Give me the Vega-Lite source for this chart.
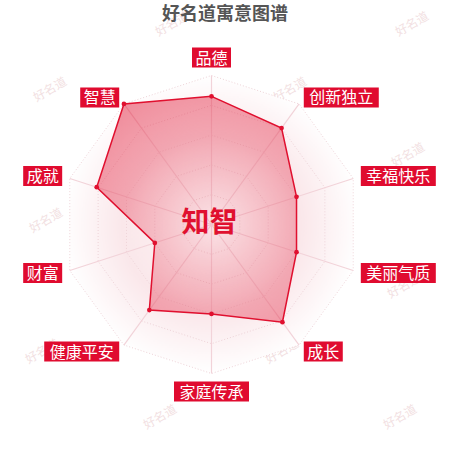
{
  "$schema": "https://vega.github.io/schema/vega-lite/v6.json",
  "description": "Radar chart of name meaning scores for 知智.",
  "width": 450,
  "height": 450,
  "padding": 0,
  "autosize": {"type": "none"},
  "title": {
    "text": "好名道寓意图谱",
    "font": "Noto Sans CJK SC",
    "fontSize": 18,
    "fontWeight": "bold",
    "color": "#555555",
    "anchor": "middle",
    "frame": "group",
    "offset": -24
  },
  "config": {"view": {"stroke": null}},
  "datasets": {
    "scores": [
      {"k": "品德", "i": 0, "v": 86},
      {"k": "创新独立", "i": 1, "v": 80},
      {"k": "幸福快乐", "i": 2, "v": 60},
      {"k": "美丽气质", "i": 3, "v": 60},
      {"k": "成长", "i": 4, "v": 81},
      {"k": "家庭传承", "i": 5, "v": 60},
      {"k": "健康平安", "i": 6, "v": 71},
      {"k": "财富", "i": 7, "v": 40},
      {"k": "成就", "i": 8, "v": 81},
      {"k": "智慧", "i": 9, "v": 100}
    ],
    "grid": [
      {"i": 0, "lv": 20}, {"i": 1, "lv": 20}, {"i": 2, "lv": 20}, {"i": 3, "lv": 20}, {"i": 4, "lv": 20},
      {"i": 5, "lv": 20}, {"i": 6, "lv": 20}, {"i": 7, "lv": 20}, {"i": 8, "lv": 20}, {"i": 9, "lv": 20},
      {"i": 0, "lv": 40}, {"i": 1, "lv": 40}, {"i": 2, "lv": 40}, {"i": 3, "lv": 40}, {"i": 4, "lv": 40},
      {"i": 5, "lv": 40}, {"i": 6, "lv": 40}, {"i": 7, "lv": 40}, {"i": 8, "lv": 40}, {"i": 9, "lv": 40},
      {"i": 0, "lv": 60}, {"i": 1, "lv": 60}, {"i": 2, "lv": 60}, {"i": 3, "lv": 60}, {"i": 4, "lv": 60},
      {"i": 5, "lv": 60}, {"i": 6, "lv": 60}, {"i": 7, "lv": 60}, {"i": 8, "lv": 60}, {"i": 9, "lv": 60},
      {"i": 0, "lv": 80}, {"i": 1, "lv": 80}, {"i": 2, "lv": 80}, {"i": 3, "lv": 80}, {"i": 4, "lv": 80},
      {"i": 5, "lv": 80}, {"i": 6, "lv": 80}, {"i": 7, "lv": 80}, {"i": 8, "lv": 80}, {"i": 9, "lv": 80},
      {"i": 0, "lv": 100}, {"i": 1, "lv": 100}, {"i": 2, "lv": 100}, {"i": 3, "lv": 100}, {"i": 4, "lv": 100},
      {"i": 5, "lv": 100}, {"i": 6, "lv": 100}, {"i": 7, "lv": 100}, {"i": 8, "lv": 100}, {"i": 9, "lv": 100}
    ],
    "stamps": [
      {"r": 0, "c": 0}, {"r": 0, "c": 1},
      {"r": 1, "c": 0}, {"r": 1, "c": 1},
      {"r": 2, "c": 0}, {"r": 2, "c": 1},
      {"r": 3, "c": 0}, {"r": 3, "c": 1},
      {"r": 4, "c": 0}, {"r": 4, "c": 1},
      {"r": 5, "c": 0}, {"r": 5, "c": 1},
      {"r": 6, "c": 0}, {"r": 6, "c": 1}
    ]
  },
  "encoding": {
    "x": {"field": "x", "type": "quantitative", "axis": null,
          "scale": {"domain": [-211.5, 238.5], "nice": false, "zero": false}},
    "y": {"field": "y", "type": "quantitative", "axis": null,
          "scale": {"domain": [-225.5, 224.5], "nice": false, "zero": false}}
  },
  "layer": [
    {
      "data": {"name": "stamps"},
      "transform": [
        {"calculate": "172 - 2 * datum.r + 240 * datum.c - (datum.r % 2) * 120 - 211.5", "as": "x"},
        {"calculate": "224.5 - (24 + 65.5 * datum.r)", "as": "y"}
      ],
      "mark": {"type": "text", "text": "好名道", "angle": -30, "font": "Noto Sans CJK SC",
               "fontSize": 12, "color": "#f2dfe2", "align": "center", "baseline": "middle"}
    },
    {
      "data": {"name": "scores"},
      "transform": [
        {"calculate": "149 * sin(datum.i * PI / 5)", "as": "x"},
        {"calculate": "149 * cos(datum.i * PI / 5)", "as": "y"}
      ],
      "mark": {"type": "line", "interpolate": "linear-closed", "strokeWidth": 0,
               "fill": {"gradient": "radial", "x1": 0.5, "y1": 0.5, "r1": 0, "x2": 0.5, "y2": 0.5, "r2": 0.5,
                        "stops": [{"offset": 0, "color": "#fdf5f6"}, {"offset": 0.6, "color": "#fae7ea"}, {"offset": 1, "color": "#ffffff"}]}},
      "encoding": {"order": {"field": "i"}}
    },
    {
      "data": {"name": "grid"},
      "transform": [
        {"calculate": "datum.lv * 1.49 * sin(datum.i * PI / 5)", "as": "x"},
        {"calculate": "datum.lv * 1.49 * cos(datum.i * PI / 5)", "as": "y"}
      ],
      "mark": {"type": "line", "interpolate": "linear-closed", "stroke": "#eed3d8", "strokeWidth": 1, "strokeDash": [1, 2]},
      "encoding": {"detail": {"field": "lv"}, "order": {"field": "i"}}
    },
    {
      "data": {"name": "scores"},
      "transform": [
        {"calculate": "149 * sin(datum.i * PI / 5)", "as": "x"},
        {"calculate": "149 * cos(datum.i * PI / 5)", "as": "y"}
      ],
      "mark": {"type": "rule", "stroke": "#f2d3d9", "strokeWidth": 1.2},
      "encoding": {"x2": {"datum": 0}, "y2": {"datum": 0}}
    },
    {
      "data": {"name": "scores"},
      "transform": [
        {"calculate": "datum.v * 1.49 * sin(datum.i * PI / 5)", "as": "x"},
        {"calculate": "datum.v * 1.49 * cos(datum.i * PI / 5)", "as": "y"}
      ],
      "mark": {"type": "line", "interpolate": "linear-closed", "stroke": "#e0102f", "strokeWidth": 1.5,
               "fill": {"gradient": "radial", "x1": 0.574, "y1": 0.568, "r1": 0, "x2": 0.574, "y2": 0.568, "r2": 0.66,
                        "stops": [{"offset": 0, "color": "rgba(224,16,47,0.08)"}, {"offset": 0.5, "color": "rgba(224,16,47,0.26)"}, {"offset": 1, "color": "rgba(224,16,47,0.48)"}]}},
      "encoding": {"order": {"field": "i"}}
    },
    {
      "data": {"name": "scores"},
      "transform": [
        {"calculate": "datum.v * 1.49 * sin(datum.i * PI / 5)", "as": "x"},
        {"calculate": "datum.v * 1.49 * cos(datum.i * PI / 5)", "as": "y"}
      ],
      "mark": {"type": "point", "filled": true, "size": 22, "color": "#e0102f", "opacity": 1}
    },
    {
      "data": {"name": "scores"},
      "transform": [
        {"calculate": "sin(datum.i * PI / 5)", "as": "s"},
        {"calculate": "cos(datum.i * PI / 5)", "as": "c"},
        {"calculate": "157 * datum.s + (datum.s > 0.01 ? 1 : datum.s < -0.01 ? -1 : 0) * (length(datum.k) == 2 ? 19.5 : 37.5)", "as": "x"},
        {"calculate": "157 * datum.c + (abs(datum.s) < 0.01 ? (datum.c > 0 ? 10 : -10) : 0)", "as": "y"}
      ],
      "layer": [
        {
          "transform": [{"filter": "length(datum.k) == 2"}],
          "mark": {"type": "point", "shape": "M-1.95,-1H1.95V1H-1.95Z", "size": 400, "filled": true, "color": "#e00b2f", "opacity": 1}
        },
        {
          "transform": [{"filter": "length(datum.k) == 4"}],
          "mark": {"type": "point", "shape": "M-3.75,-1H3.75V1H-3.75Z", "size": 400, "filled": true, "color": "#e00b2f", "opacity": 1}
        },
        {
          "mark": {"type": "text", "font": "Noto Sans CJK SC", "fontSize": 16, "color": "#ffffff",
                   "align": "center", "baseline": "middle", "dy": 1},
          "encoding": {"text": {"field": "k"}}
        }
      ]
    },
    {
      "data": {"values": [{"t": "知智"}]},
      "transform": [
        {"calculate": "-2", "as": "x"},
        {"calculate": "1", "as": "y"}
      ],
      "mark": {"type": "text", "font": "Noto Sans CJK SC", "fontSize": 28, "fontWeight": "bold",
               "color": "#e0102f", "align": "center", "baseline": "middle"},
      "encoding": {"text": {"field": "t"}}
    }
  ]
}
